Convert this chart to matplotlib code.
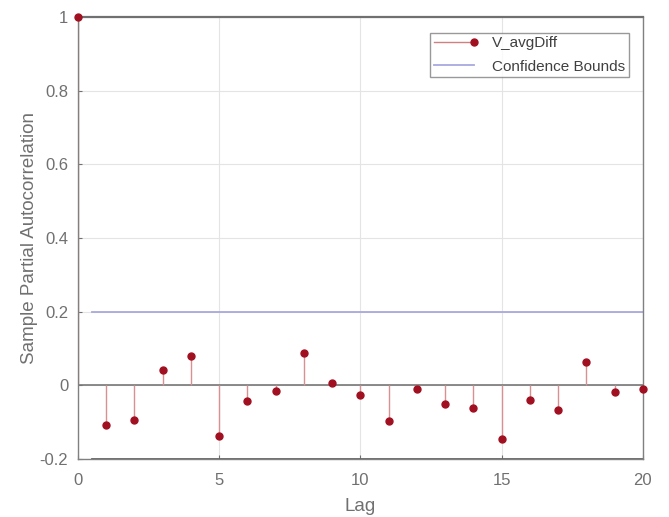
import matplotlib
matplotlib.use("Agg")
import matplotlib.pyplot as plt
from matplotlib.lines import Line2D
from matplotlib.legend_handler import HandlerLine2D

lags = list(range(0, 21))
pacf = [1.0, -0.108, -0.094, 0.041, 0.079, -0.137, -0.043, -0.015, 0.088, 0.005,
        -0.026, -0.098, -0.011, -0.051, -0.062, -0.146, -0.039, -0.068, 0.064, -0.017, -0.010]
bound = 0.2
series_name = "V_avgDiff"
bound_name = "Confidence Bounds"
xticks = [0, 5, 10, 15, 20]
yticks = [-0.2, 0, 0.2, 0.4, 0.6, 0.8, 1]
yticklabels = ['-0.2', '0', '0.2', '0.4', '0.6', '0.8', '1']

plt.rcParams['font.family'] = ['Liberation Sans', 'DejaVu Sans']

fig = plt.figure(figsize=(6.69, 5.17), dpi=100)
ax = fig.add_axes([0.1166, 0.1122, 0.961 - 0.1166, 0.967 - 0.1122])

text_col = '#707070'
ax.grid(True, color='#e4e4e4', linewidth=0.8)
ax.set_axisbelow(True)

ml, sl, bl = ax.stem(lags, pacf, basefmt=' ')
plt.setp(sl, color='#d89090', linewidth=1.0)
plt.setp(ml, color='#a01020', markersize=5, markeredgecolor='#a01020', clip_on=False, zorder=5)
ax.plot([0, 20], [0, 0], color='#777777', linewidth=1.2, zorder=1)

bl_line, = ax.plot([0.5, 20], [bound, bound], color='#a8a8e0', linewidth=1.3)
ax.plot([0.5, 20], [-bound, -bound], color='#606060', linewidth=2.0)

ax.set_xlim(0, 20)
ax.set_ylim(-0.2, 1.0)
ax.set_xticks(xticks)
ax.set_yticks(yticks)
ax.set_yticklabels(yticklabels)
ax.tick_params(colors=text_col, labelsize=12, length=3, direction='in')
ax.tick_params(axis='x', pad=10)
ax.tick_params(axis='y', pad=7)
for s in ax.spines.values():
    s.set_color('#808080')
    s.set_linewidth(1.0)
ax.spines['top'].set_linewidth(1.6)
ax.spines['top'].set_color('#707070')

ax.set_xlabel('Lag', color=text_col, fontsize=13.5, labelpad=7)
ax.set_ylabel('Sample Partial Autocorrelation', color=text_col, fontsize=13.5, labelpad=1)


class StemHandler(HandlerLine2D):
    def create_artists(self, legend, orig_handle, xdescent, ydescent, width, height, fontsize, trans):
        y = height / 2 - ydescent
        line = Line2D([-xdescent, -xdescent + width], [y, y], color='#d08080', linewidth=1.0, transform=trans)
        dot = Line2D([-xdescent + width], [y], marker='o', markersize=5, color='#a01020',
                     linestyle='none', transform=trans)
        return [line, dot]


h1 = Line2D([], [], color='#d08080')
leg = ax.legend(handles=[h1, bl_line], labels=[series_name, bound_name], loc='upper right', fontsize=11,
                frameon=True, fancybox=False, edgecolor='#808080',
                bbox_to_anchor=(0.975, 0.965), handlelength=2.6, borderpad=0.25,
                labelspacing=0.6, handletextpad=1.2, borderaxespad=0,
                handler_map={h1: StemHandler()})
for t in leg.get_texts():
    t.set_color('#404040')
leg.get_frame().set_linewidth(1.0)

fig.savefig('out.png', dpi=100)
